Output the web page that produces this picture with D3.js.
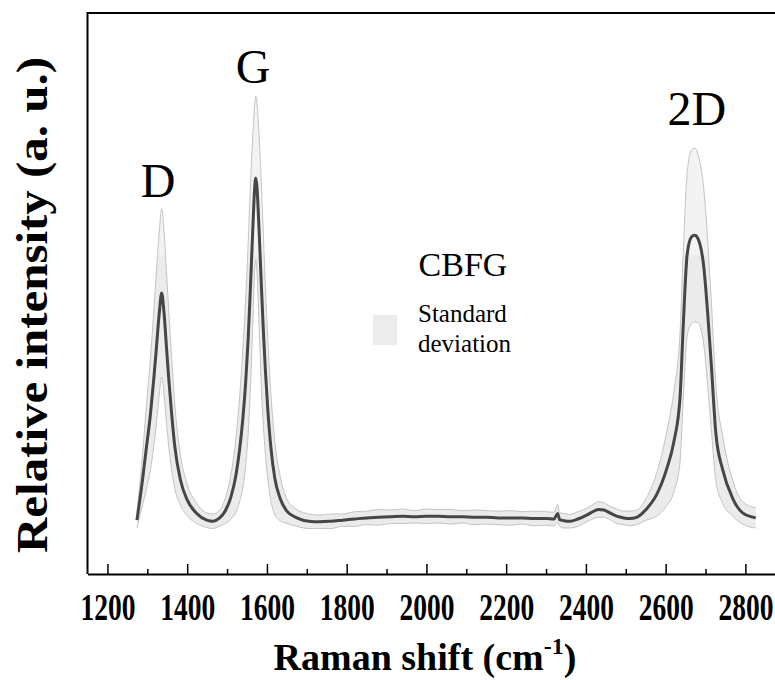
<!DOCTYPE html>
<html>
<head>
<meta charset="utf-8">
<script src="https://cdn.jsdelivr.net/npm/d3@7"></script>
<style>
body { margin: 0; background: #fff; }
svg { display: block; }
</style>
</head>
<body>
<script>
// Raman shift (cm-1), mean relative intensity and its standard deviation
var shift = [1274, 1288, 1298, 1308, 1316, 1323, 1330, 1336, 1342, 1348, 1354, 1361, 1369, 1383, 1400, 1424, 1449, 1465,
	1480, 1495, 1510, 1522, 1532, 1540, 1547, 1553, 1558, 1562, 1566, 1569, 1572, 1575, 1578, 1582, 1586,
	1591, 1596, 1602, 1610, 1620, 1633, 1650, 1675, 1705, 1733,
	1760, 1790, 1820, 1850, 1880, 1910, 1940, 1970, 2000, 2030, 2060, 2090, 2120, 2150, 2180, 2210, 2240, 2270, 2300,
	2320, 2329, 2334, 2345, 2360, 2380, 2402, 2420, 2431, 2445, 2460, 2477, 2495, 2510, 2527,
	2552, 2577, 2602, 2621, 2636, 2644, 2654, 2665, 2673, 2681, 2694, 2714, 2726, 2743, 2768, 2793, 2826];

var meanI = [9.6, 16.8, 22.7, 28.6, 34.6, 40.5, 46.5, 50.1, 46.5, 40.5, 34.6, 28.6, 22.7, 16.8, 13.2, 10.8, 9.6, 9.4,
	9.9, 11.2, 13.8, 17.5, 22.5, 28.0, 34.5, 42.0, 50.0, 57.0, 64.0, 68.5, 70.6, 69.0, 65.0, 58.5, 51.5,
	43.5, 36.5, 29.5, 22.5, 17.0, 13.5, 11.2, 10.0, 9.4, 9.3,
	9.4, 9.6, 9.8, 10.0, 10.1, 10.2, 10.3, 10.2, 10.3, 10.3, 10.2, 10.2, 10.1, 10.1, 10.0, 10.0, 10.0, 9.9, 9.9,
	9.8, 10.8, 9.7, 9.5, 9.4, 9.8, 10.5, 11.2, 11.5, 11.4, 10.9, 10.3, 10.0, 9.9, 10.1,
	11.6, 14.1, 18.6, 23.7, 31.4, 44.1, 57.0, 60.1, 60.4, 59.8, 55.7, 37.8, 25.0, 18.6, 13.5, 10.9, 10.0];

var sdI = [1.4, 4.5, 7.5, 10.0, 12.0, 13.5, 14.5, 15.0, 14.5, 13.5, 12.0, 10.0, 7.5, 4.5, 2.8, 1.8, 1.3, 1.3,
	1.4, 2.2, 4.0, 6.5, 9.5, 12.5, 15.0, 17.0, 18.0, 17.5, 16.0, 15.0, 14.6, 15.0, 16.0, 17.5, 18.0,
	17.0, 15.0, 12.5, 9.5, 6.5, 4.0, 2.2, 1.5, 1.3, 1.2,
	1.3, 1.1, 1.3, 1.2, 1.4, 1.2, 1.3, 1.1, 1.3, 1.2, 1.3, 1.1, 1.3, 1.2, 1.2, 1.3, 1.1, 1.3, 1.2,
	1.2, 1.6, 1.2, 1.3, 1.2, 1.3, 1.2, 1.3, 1.4, 1.3, 1.2, 1.3, 1.2, 1.3, 1.3,
	2.0, 3.8, 6.5, 9.0, 11.5, 13.0, 14.5, 15.5, 15.5, 15.0, 14.0, 11.5, 8.5, 6.0, 3.2, 2.0, 1.8];

var majorTicks = [1200, 1400, 1600, 1800, 2000, 2200, 2400, 2600, 2800];
var minorTicks = [1300, 1500, 1700, 1900, 2100, 2300, 2500, 2700];

var peakNames = ["D", "G", "2D"];
var peakShift = [1327, 1565, 2678];
var peakLabelI = [67.2, 87.6, 80.0];

var W = 775, H = 680;

var data = shift.map(function(s, i) {
	return {x: s, m: meanI[i], lo: meanI[i] - sdI[i], hi: meanI[i] + sdI[i]};
});

var x = d3.scaleLinear().domain([1150, 2880]).range([87.5, 777.3]);
var y = d3.scaleLinear().domain([0, 100]).range([574, 13]);

var svg = d3.select("body").append("svg")
	.attr("width", W)
	.attr("height", H)
	.style("font-family", "'Liberation Serif', 'Times New Roman', serif");

// the band looks lighter above this level in the original
var splitY = 255;
var defs = svg.append("defs");
defs.append("clipPath").attr("id", "clipTop")
	.append("rect").attr("x", 0).attr("y", 0).attr("width", W).attr("height", splitY);
defs.append("clipPath").attr("id", "clipBottom")
	.append("rect").attr("x", 0).attr("y", splitY).attr("width", W).attr("height", H - splitY);

var band = d3.area()
	.x(function(d) { return x(d.x); })
	.y0(function(d) { return y(d.lo); })
	.y1(function(d) { return y(d.hi); })
	.curve(d3.curveMonotoneX);

svg.append("path").datum(data)
	.attr("d", band)
	.attr("fill", "#ebebeb")
	.attr("clip-path", "url(#clipBottom)");
svg.append("path").datum(data)
	.attr("d", band)
	.attr("fill", "#f3f3f3")
	.attr("clip-path", "url(#clipTop)");

var edge = function(key) {
	return d3.line()
		.x(function(d) { return x(d.x); })
		.y(function(d) { return y(d[key]); })
		.curve(d3.curveMonotoneX);
};

svg.append("path").datum(data)
	.attr("d", edge("hi"))
	.attr("fill", "none")
	.attr("stroke", "#c4c4c4")
	.attr("stroke-width", 1);
svg.append("path").datum(data)
	.attr("d", edge("lo"))
	.attr("fill", "none")
	.attr("stroke", "#c4c4c4")
	.attr("stroke-width", 1);

svg.append("path").datum(data)
	.attr("d", edge("m"))
	.attr("fill", "none")
	.attr("stroke", "#464646")
	.attr("stroke-width", 3)
	.attr("stroke-linejoin", "round");

// frame: left and top only, the right side falls outside the picture
svg.append("path")
	.attr("d", "M" + x.range()[0] + "," + y(100) + "H" + (W + 5) + "M" + x.range()[0] + "," + (y(100) - 1) + "V" + y(0))
	.attr("fill", "none")
	.attr("stroke", "#000")
	.attr("stroke-width", 2);

var xAxis = svg.append("g")
	.attr("transform", "translate(0," + y(0) + ")")
	.call(d3.axisBottom(x).tickValues(majorTicks).tickSize(-10).tickSizeOuter(0).tickPadding(20)
		.tickFormat(d3.format("d")));
xAxis.select(".domain").attr("stroke-width", 2);
xAxis.selectAll(".tick line").attr("stroke-width", 1.5);
xAxis.selectAll(".tick text")
	.attr("font-family", "'Liberation Serif', serif")
	.attr("font-size", 37)
	.attr("font-weight", "bold")
	.attr("fill", "#000")
	.attr("textLength", 55)
	.attr("lengthAdjust", "spacingAndGlyphs");

svg.append("g")
	.attr("transform", "translate(0," + y(0) + ")")
	.call(d3.axisBottom(x).tickValues(minorTicks).tickSize(-5).tickFormat(""))
	.call(function(g) { g.select(".domain").remove(); })
	.selectAll(".tick line").attr("stroke-width", 1.5);

// axis titles
var xt = svg.append("text")
	.attr("x", 425)
	.attr("y", 670)
	.attr("text-anchor", "middle")
	.attr("font-size", 38)
	.attr("font-weight", "bold");
xt.append("tspan").text("Raman shift (cm");
xt.append("tspan").attr("font-size", 24).attr("dy", -16).text("-1");
xt.append("tspan").attr("dy", 16).text(")");

svg.append("text")
	.attr("transform", "translate(47,305) rotate(-90)")
	.attr("text-anchor", "middle")
	.attr("font-size", 44)
	.attr("font-weight", "bold")
	.attr("textLength", 496)
	.attr("lengthAdjust", "spacingAndGlyphs")
	.text("Relative intensity (a. u.)");

// peak names
svg.selectAll(".peak")
	.data(peakNames)
	.enter().append("text")
		.attr("class", "peak")
		.attr("x", function(d, i) { return x(peakShift[i]); })
		.attr("y", function(d, i) { return y(peakLabelI[i]); })
		.attr("text-anchor", "middle")
		.attr("font-size", 48)
		.text(function(d) { return d; });

// legend
svg.append("text")
	.attr("x", 463)
	.attr("y", 276)
	.attr("text-anchor", "middle")
	.attr("font-size", 34)
	.text("CBFG");
svg.append("rect")
	.attr("x", 373).attr("y", 315)
	.attr("width", 24).attr("height", 30)
	.attr("fill", "#ececec");
svg.append("text")
	.attr("x", 418).attr("y", 322)
	.attr("font-size", 25)
	.text("Standard");
svg.append("text")
	.attr("x", 418).attr("y", 352)
	.attr("font-size", 25)
	.text("deviation");
</script>
</body>
</html>
